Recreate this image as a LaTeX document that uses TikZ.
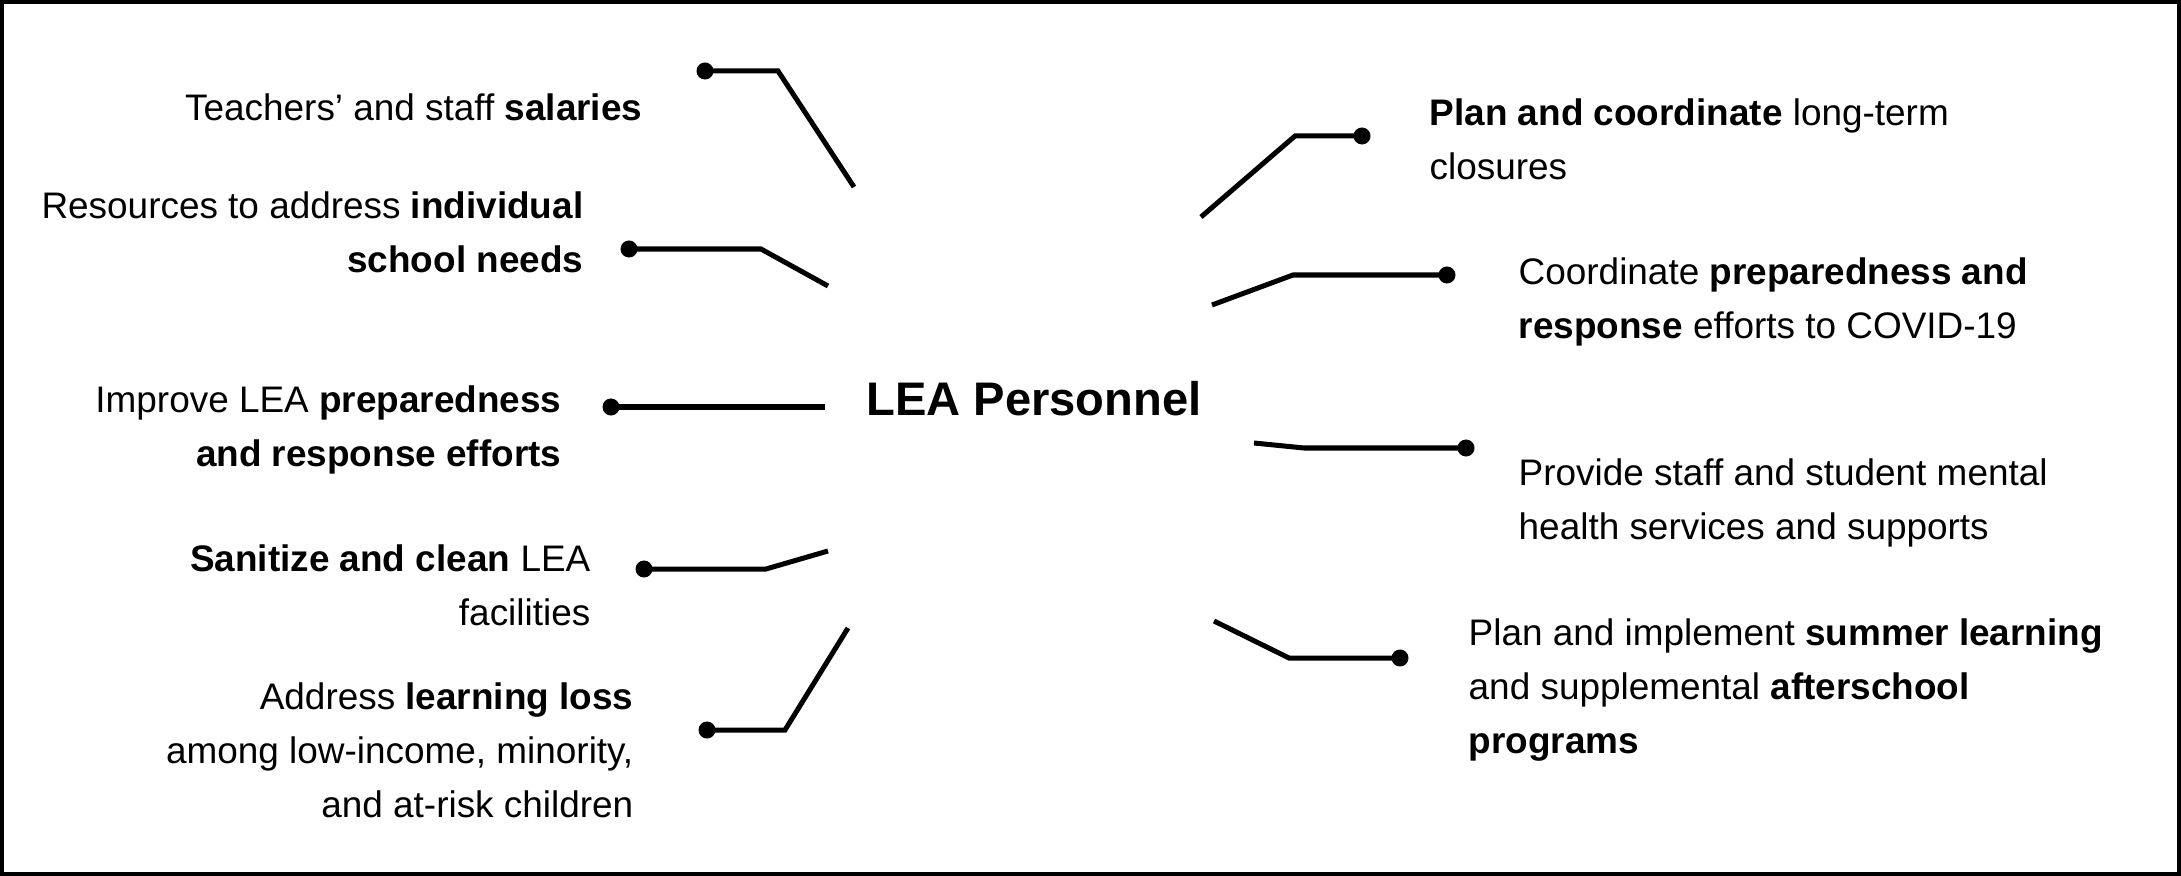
\documentclass[tikz,border=0pt]{standalone}
\usepackage{fontspec}
\setmainfont{Liberation Sans}

\tikzset{
  item/.style={inner sep=0pt, font=\fontsize{10.5}{15.3}\selectfont},
  itemleft/.style={item, align=left, anchor=west},
  itemright/.style={item, align=right, anchor=east},
  conn/.style={line width=0.05cm, line join=miter},
}
\newcommand{\tipdot}[1]{\fill (#1) circle[radius=0.085cm];}

\begin{document}
\begin{tikzpicture}[x=0.01cm, y=-0.01cm] % pixel grid, y down
        \useasboundingbox (0,0) rectangle (2181,876);
        \draw[line width=1.1pt] (2,2) rectangle (2179,874);
        \node[inner sep=0pt, font=\fontsize{13.4}{16}\selectfont\bfseries] (hub) at (1034,399) {LEA Personnel};
        % left side
        \node[itemright] (salaries) at (643,107) {Teachers’ and staff \textbf{salaries}};
        \node[itemright] (needs) at (584,232) {Resources to address \textbf{individual}\\\textbf{school needs}};
        \node[itemright] (improve) at (562,430) {Improve LEA \textbf{preparedness}\\\textbf{and response efforts}};
        \node[itemright] (clean) at (591,585) {\textbf{Sanitize and clean} LEA\\facilities};
        \node[itemright] (loss) at (634,750) {Address \textbf{learning loss}\\among low-income, minority,\\and at-risk children};
        % right side
        \node[itemleft] (closures) at (1429,139) {\textbf{Plan and coordinate} long-term\\closures};
        \node[itemleft] (covid) at (1518,302) {Coordinate \textbf{preparedness and}\\\textbf{response} efforts to COVID-19};
        \node[itemleft] (mental) at (1518,503) {Provide staff and student mental\\health services and supports};
        \node[itemleft] (summer) at (1468,690) {Plan and implement \textbf{summer learning}\\and supplemental \textbf{afterschool}\\\textbf{programs}};
        % connector ends
        \coordinate (a1) at (854,187);  \coordinate (d1) at (705,71);
        \coordinate (a2) at (828,286);  \coordinate (d2) at (629,249);
        \coordinate (a3) at (825,407);  \coordinate (d3) at (611,407);
        \coordinate (a4) at (828,551);  \coordinate (d4) at (644,569);
        \coordinate (a5) at (848,628);  \coordinate (d5) at (707,730);
        \coordinate (a6) at (1201,217); \coordinate (d6) at (1362,136);
        \coordinate (a7) at (1212,305); \coordinate (d7) at (1447,275);
        \coordinate (a8) at (1254,443); \coordinate (d8) at (1466,448);
        \coordinate (a9) at (1214,621); \coordinate (d9) at (1400,658);
        \draw[conn] (a1) -- (778,71) -- (d1);
        \draw[conn] (a2) -- (761,249) -- (d2);
        \draw[conn] (a3) -- (d3);
        \draw[conn] (a4) -- (766,569) -- (d4);
        \draw[conn] (a5) -- (785,730) -- (d5);
        \draw[conn] (a6) -- (1295,136) -- (d6);
        \draw[conn] (a7) -- (1293,275) -- (d7);
        \draw[conn] (a8) -- (1304,448) -- (d8);
        \draw[conn] (a9) -- (1289,658) -- (d9);
        \foreach \d in {d1,d2,d3,d4,d5,d6,d7,d8,d9} {\tipdot{\d}}
\end{tikzpicture}
\end{document}
